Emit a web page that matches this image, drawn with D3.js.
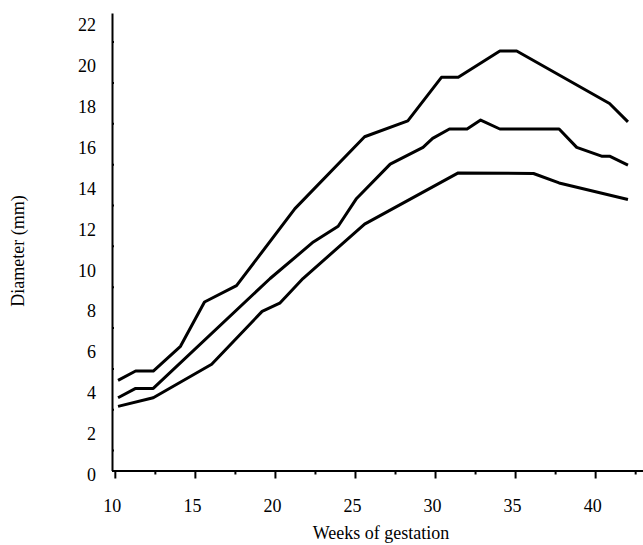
<!DOCTYPE html>
<html>
    <head>
        <title>Diameter by weeks of gestation</title>
        <meta charset="utf-8">
    <style>
    body { margin: 0; background: #fff; }
    .axis text { font-family: "Liberation Serif", "Times New Roman", serif;
                 font-size: 18px;
                 fill: #000; }
    .axis line, .axis path { stroke: #000; stroke-width: 2; }
    .title { font-family: "Liberation Serif", "Times New Roman", serif;
             font-size: 18px; }
    .curve { fill: none;
             stroke: #000;
             stroke-width: 3;
             stroke-linejoin: round; }
    </style>
        <script src="https://d3js.org/d3.v7.min.js"></script>
  </head>
  <body>
        <script type="text/javascript">
        // values (week, diameter in mm)
        var upperWeeks  = [10.2, 11.3, 12.4, 14.1, 15.6, 17.6, 21.25, 25.6, 28.3, 30.4, 31.45, 34.05, 35.1, 40.9, 42.05];
        var upperDiam   = [4.41, 4.87, 4.87, 6.08, 8.25, 9.05, 12.82, 16.34, 17.12, 19.25, 19.25, 20.54, 20.54, 17.97, 17.07];
        var middleWeeks = [10.2, 11.3, 12.4, 19.7, 22.4, 23.95, 25.1, 27.2, 29.25, 29.85, 30.9, 32.0, 32.85, 34.05, 37.75, 38.85, 40.4, 40.9, 42.05];
        var middleDiam  = [3.56, 4.02, 4.02, 9.4, 11.19, 11.96, 13.32, 15.0, 15.82, 16.26, 16.72, 16.72, 17.16, 16.72, 16.72, 15.82, 15.39, 15.39, 14.95];
        var lowerWeeks  = [10.2, 12.4, 16.05, 19.2, 20.3, 21.75, 25.6, 31.45, 36.15, 37.75, 42.05];
        var lowerDiam   = [3.14, 3.56, 5.2, 7.79, 8.19, 9.4, 12.06, 14.57, 14.54, 14.08, 13.27];

        var xMajor = [10, 15, 20, 25, 30, 35, 40];
        var xMinor = [12.5, 17.5, 22.5, 27.5, 32.5, 37.5, 42.5];
        var yMajor = [0, 2, 4, 6, 8, 10, 12, 14, 16, 18, 20, 22];
        var yMinor = [1, 3, 5, 7, 9, 11, 13, 15, 17, 19, 21];

        var width = 643, height = 545;

        var svg = d3.select("body")
                    .append("svg")
                    .attr("width", width)
                    .attr("height", height);

        var x = d3.scaleLinear()
                  .domain([9.823, 42.99])
                  .range([112, 643]);
        var y = d3.scaleLinear()
                  .domain([0, 22.4])
                  .range([470.5, 13]);

        // x axis, major ticks with labels then minor ticks
        var xAxis = svg.append("g")
                       .attr("class", "axis")
                       .attr("transform", "translate(0," + y(0) + ")")
                       .call(d3.axisBottom(x)
                               .tickValues(xMajor)
                               .tickSizeInner(8)
                               .tickSizeOuter(0)
                               .tickPadding(21)
                               .tickFormat(d3.format("d")));
        xAxis.selectAll("text").attr("dx", -3);
        svg.append("g")
           .attr("class", "axis")
           .attr("transform", "translate(0," + y(0) + ")")
           .call(d3.axisBottom(x)
                   .tickValues(xMinor)
                   .tickSizeInner(4)
                   .tickSizeOuter(0)
                   .tickFormat(""))
           .select(".domain").remove();

        // y axis
        var yAxis = svg.append("g")
                       .attr("class", "axis")
                       .attr("transform", "translate(" + x(x.domain()[0]) + ",0)")
                       .call(d3.axisLeft(y)
                               .tickValues(yMajor)
                               .tickSizeInner(8)
                               .tickSizeOuter(0)
                               .tickPadding(8)
                               .tickFormat(d3.format("d")));
        yAxis.selectAll(".tick line").attr("x2", 1);
        yAxis.selectAll("text").attr("y", 4);
        var yMinorAxis = svg.append("g")
                            .attr("class", "axis")
                            .attr("transform", "translate(" + x(x.domain()[0]) + ",0)")
                            .call(d3.axisLeft(y)
                                    .tickValues(yMinor)
                                    .tickSizeInner(4)
                                    .tickSizeOuter(0)
                                    .tickFormat(""));
        yMinorAxis.select(".domain").remove();
        yMinorAxis.selectAll(".tick line").attr("x2", 2);

        // curves
        var line = d3.line()
                     .x(function(d) { return x(d[0]); })
                     .y(function(d) { return y(d[1]); });
        function pairs(weeks, diam) {
            return weeks.map(function(w, i) { return [w, diam[i]]; });
        }
        var curves = [pairs(upperWeeks, upperDiam),
                      pairs(middleWeeks, middleDiam),
                      pairs(lowerWeeks, lowerDiam)];
        svg.selectAll(".curve")
           .data(curves)
           .enter()
           .append("path")
           .attr("class", "curve")
           .attr("d", line);

        // axis titles
        svg.append("text")
           .attr("class", "title")
           .attr("x", 381)
           .attr("y", 539)
           .attr("text-anchor", "middle")
           .text("Weeks of gestation");
        svg.append("text")
           .attr("class", "title")
           .attr("transform", "translate(24,251) rotate(-90)")
           .attr("text-anchor", "middle")
           .text("Diameter (mm)");
        </script>
  </body>
</html>
